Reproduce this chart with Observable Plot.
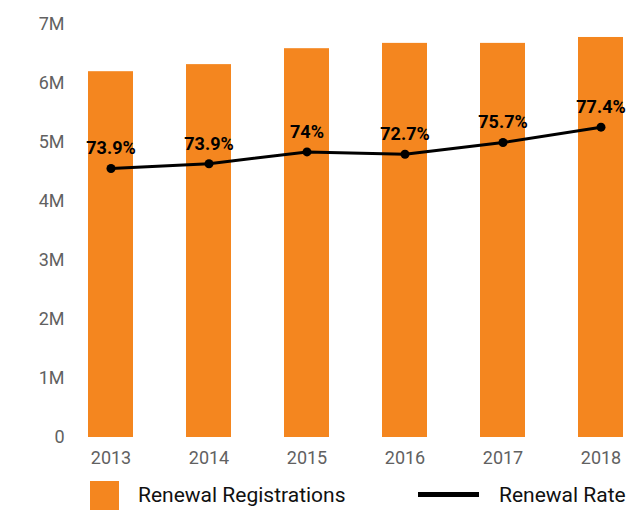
<!DOCTYPE html>
<html>
<head>
<meta charset="utf-8">
<script src="https://cdn.jsdelivr.net/npm/d3@7"></script>
<script src="https://cdn.jsdelivr.net/npm/@observablehq/plot@0.6"></script>
<style>
  html, body { margin: 0; padding: 0; background: #fff; }
  body { width: 631px; height: 510px; overflow: hidden; font-family: Roboto, sans-serif; }
  #legend { position: relative; height: 40px; }
  #legend .sw { position: absolute; left: 90px; top: 11px; width: 29px; height: 29px; background: #f4861f; }
  #legend .ln { position: absolute; left: 418px; top: 22px; width: 61px; height: 5px; background: #000; }
  #legend .t { position: absolute; top: 12px; font-size: 21px; color: #111; line-height: 26px; }
</style>
</head>
<body>
<div id="chart"></div>
<div id="legend">
  <div class="sw"></div><div class="t" style="left:138px">Renewal Registrations</div>
  <div class="ln"></div><div class="t" style="left:499px">Renewal Rate</div>
</div>
<script>
const years = ["2013", "2014", "2015", "2016", "2017", "2018"];
const registrations = [6.20e6, 6.32e6, 6.59e6, 6.68e6, 6.68e6, 6.78e6];
const rateLabels = ["73.9%", "73.9%", "74%", "72.7%", "75.7%", "77.4%"];
// rate line as drawn against the left axis (secondary scale hidden)
const ratePlotted = [4.56e6, 4.64e6, 4.84e6, 4.80e6, 5.00e6, 5.26e6];
const yTicks = [0, 1e6, 2e6, 3e6, 4e6, 5e6, 6e6, 7e6];

const data = years.map((y, i) => ({year: y, reg: registrations[i], pos: ratePlotted[i], label: rateLabels[i]}));

const chart = Plot.plot({
  width: 631,
  height: 470,
  marginLeft: 81,
  marginRight: 0,
  marginTop: 24,
  marginBottom: 33,
  style: {fontFamily: "Roboto, sans-serif", background: "#fff"},
  x: {domain: years, paddingInner: 0.54, paddingOuter: 0.076, label: null},
  y: {domain: [0, 7e6], label: null},
  marks: [
    Plot.gridY(yTicks.filter(d => d > 0), {stroke: "#e0e0e0", strokeOpacity: 1, strokeWidth: 1.5, x1: 81, x2: 628}),
    Plot.barY(data, {x: "year", y: "reg", fill: "#f4861f"}),
    Plot.ruleY([0], {stroke: "#555", strokeWidth: 2, x1: 81, x2: 628}),
    Plot.axisY({ticks: yTicks, tickSize: 0, tickPadding: 17, fontSize: 18, fill: "#616161",
      tickFormat: d => d === 0 ? "0" : d / 1e6 + "M", label: null}),
    Plot.axisX({tickSize: 0, tickPadding: 14, fontSize: 18, fill: "#616161", label: null}),
    Plot.line(data, {x: "year", y: "pos", stroke: "#000", strokeWidth: 3}),
    Plot.dot(data, {x: "year", y: "pos", r: 4.5, fill: "#000", stroke: "none"}),
    Plot.text(data, {x: "year", y: "pos", text: "label", dy: -20, fontSize: 18, fontWeight: "bold", fill: "#000"})
  ]
});
document.getElementById("chart").appendChild(chart);
</script>
</body>
</html>
